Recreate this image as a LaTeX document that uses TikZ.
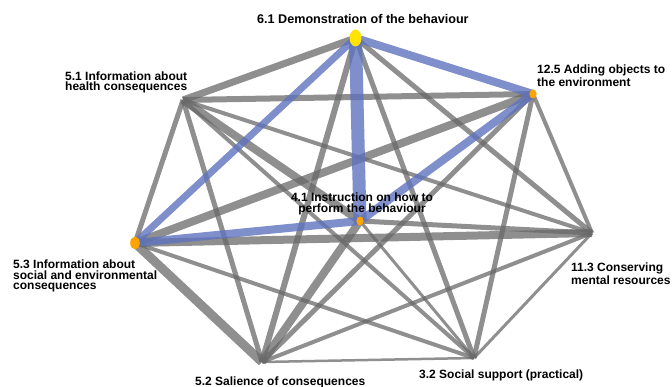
\documentclass[tikz,border=0pt]{standalone}
\usepackage{fontspec}
\setmainfont{Liberation Sans}
\definecolor{linkgray}{RGB}{105,105,105}
\definecolor{linkblue}{RGB}{95,115,190}
\definecolor{dotyellow}{RGB}{255,228,0}
\definecolor{dotorange}{RGB}{255,163,0}
\begin{document}
\begin{tikzpicture}[x=1pt,y=-1pt,
  edge/.style={draw=linkgray, draw opacity=0.75, line width=#1},
  hl/.style={draw=linkblue, draw opacity=0.8, line width=#1},
  lbl/.style={font=\bfseries\fontsize{12}{10.5}\selectfont, inner sep=0pt, align=left},
  dot/.style={fill=#1}]
\useasboundingbox (0,0) rectangle (672,387);

% behaviour change technique positions
\coordinate (A) at (355.5,38);   % 6.1
\coordinate (B) at (533,94);     % 12.5
\coordinate (C) at (183,100);    % 5.1
\coordinate (D) at (135,243);    % 5.3
\coordinate (E) at (360,221);    % 4.1
\coordinate (F) at (592,233);    % 11.3
\coordinate (G) at (262,362);    % 5.2
\coordinate (H) at (474,358);    % 3.2

% co-occurrence links
\draw[edge=7]   (A) -- (C);
\draw[edge=5]   (A) -- (F);
\draw[edge=6]   (A) -- (G);
\draw[edge=5]   (A) -- (H);
\draw[edge=6]   (B) -- (C);
\draw[edge=8]   (B) -- (D);
\draw[edge=4]   (B) -- (F);
\draw[edge=5]   (B) -- (G);
\draw[edge=5]   (B) -- (H);
\draw[edge=5]   (C) -- (D);
\draw[edge=8]   (C) -- (E);
\draw[edge=4]   (C) -- (F);
\draw[edge=5]   (C) -- (G);
\draw[edge=4]   (C) -- (H);
\draw[edge=8]   (D) -- (F);
\draw[edge=9]   (D) -- (G);
\draw[edge=4]   (D) -- (H);
\draw[edge=5]   (E) -- (F);
\draw[edge=8]   (E) -- (G);
\draw[edge=3]   (E) -- (H);
\draw[edge=4]   (F) -- (G);
\draw[edge=3]   (F) -- (H);
\draw[edge=2.5] (G) -- (H);

% highlighted links
\draw[hl=8]  (A) -- (B);
\draw[hl=7]  (A) -- (D);
\draw[hl=13] (A) -- (E);
\draw[hl=8]  (B) -- (E);
\draw[hl=8]  (D) -- (E);

% highlighted techniques
\fill[dot=dotyellow] (A) ellipse (6 and 8.5);
\fill[dot=dotorange] (B) ellipse (3.6 and 4.6);
\fill[dot=dotorange] (D) ellipse (4.8 and 6.3);
\fill[dot=dotorange] (E) ellipse (3.6 and 4.6);

% labels
\node[lbl, font=\bfseries\fontsize{12.6}{11}\selectfont, anchor=north west] (tA) at (257,14.5) {6.1 Demonstration of the behaviour};
\node[lbl, anchor=north west] (tB) at (537,65) {12.5 Adding objects to\\the environment};
\node[lbl, anchor=north west] (tC) at (65,71.5) {5.1 Information about\\health consequences};
\node[lbl, anchor=north west] (tD) at (13,260) {5.3 Information about\\social and environmental\\consequences};
\node[lbl, anchor=north, align=center] (tE) at (362,193) {4.1 Instruction on how to\\perform the behaviour};
\node[lbl, anchor=north west] (tF) at (571,263) {11.3 Conserving\\mental resources};
\node[lbl, anchor=north west] (tG) at (195,376.5) {5.2 Salience of consequences};
\node[lbl, anchor=north west] (tH) at (419,370) {3.2 Social support (practical)};
\end{tikzpicture}
\end{document}
